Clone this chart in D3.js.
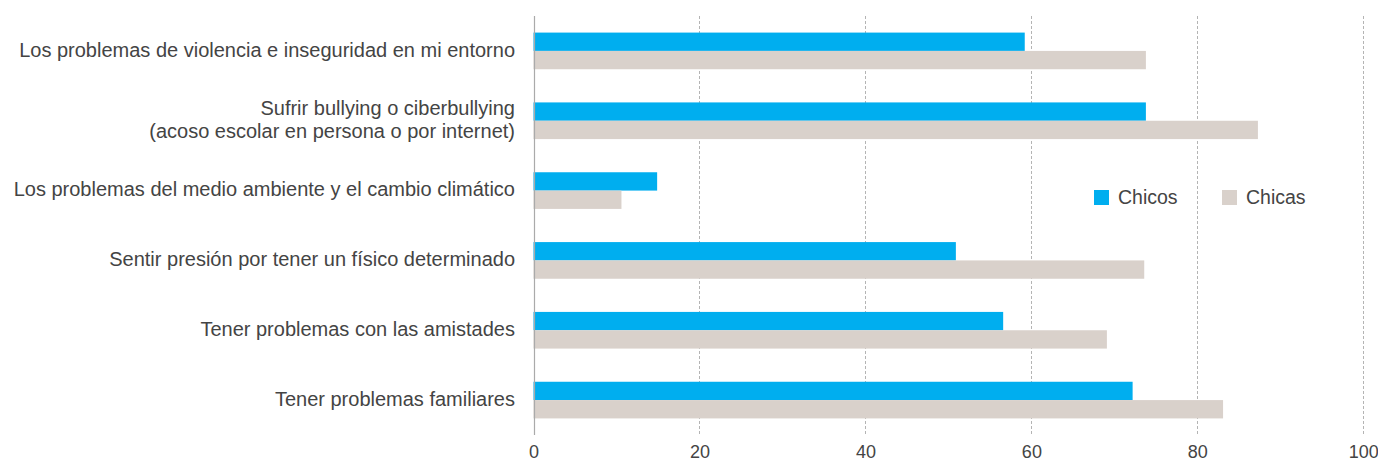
<!DOCTYPE html>
<html>
<head>
<meta charset="utf-8">
<script src="https://cdn.jsdelivr.net/npm/d3@7"></script>
<style>
  html, body { margin: 0; padding: 0; background: #fff; }
  svg { display: block; }
  text { font-family: "Liberation Sans", Arial, sans-serif; fill: #444; }
</style>
</head>
<body>
<div id="chart"></div>
<script>
// Categories, top to bottom (each may span two lines)
const categories = [
  ["Los problemas de violencia e inseguridad en mi entorno"],
  ["Sufrir bullying o ciberbullying", "(acoso escolar en persona o por internet)"],
  ["Los problemas del medio ambiente y el cambio climático"],
  ["Sentir presión por tener un físico determinado"],
  ["Tener problemas con las amistades"],
  ["Tener problemas familiares"]
];
const seriesNames = ["Chicos", "Chicas"];
const chicos = [59.2, 73.8, 14.9, 50.9, 56.6, 72.2];
const chicas = [73.8, 87.3, 10.6, 73.6, 69.1, 83.1];
const xTicks = [0, 20, 40, 60, 80, 100];

const width = 1378, height = 461;
const margin = { top: 16, right: 15, bottom: 26, left: 533.5 };
const colors = { Chicos: "#00aeef", Chicas: "#d9d1cb" };

const svg = d3.select("#chart").append("svg")
  .attr("width", width).attr("height", height);

const x = d3.scaleLinear().domain([0, 100]).range([margin.left, 1363.3]);
const y = d3.scaleBand()
  .domain(d3.range(categories.length))
  .range([margin.top, height - margin.bottom])
  .paddingInner(0.475).paddingOuter(0.2375);
const ySub = d3.scaleBand().domain(seriesNames).range([0, y.bandwidth()]);

// Dashed vertical gridlines
svg.append("g").selectAll("line")
  .data(xTicks.filter(d => d > 0))
  .join("line")
  .attr("x1", d => Math.round(x(d)) + 0.5).attr("x2", d => Math.round(x(d)) + 0.5)
  .attr("y1", margin.top).attr("y2", height - margin.bottom)
  .attr("stroke", "#b4b4b4").attr("stroke-width", 1)
  .attr("stroke-dasharray", "3,2");

// Bars
const rows = categories.map((c, i) => ({ i, Chicos: chicos[i], Chicas: chicas[i] }));
const group = svg.append("g").selectAll("g")
  .data(rows).join("g")
  .attr("transform", d => `translate(0,${y(d.i)})`);
group.selectAll("rect")
  .data(d => seriesNames.map(k => ({ key: k, value: d[k] })))
  .join("rect")
  .attr("x", x(0))
  .attr("y", d => ySub(d.key))
  .attr("width", d => x(d.value) - x(0))
  .attr("height", ySub.bandwidth())
  .attr("fill", d => colors[d.key]);

// Baseline axis line
svg.append("line")
  .attr("x1", Math.round(x(0)) + 0.5).attr("x2", Math.round(x(0)) + 0.5)
  .attr("y1", margin.top).attr("y2", height - margin.bottom)
  .attr("stroke", "#aaaaaa").attr("stroke-width", 1.2);

// X tick labels
const xAxis = d3.axisBottom(x).tickValues(xTicks).tickSize(0).tickPadding(0);
const xg = svg.append("g")
  .attr("transform", `translate(0,${height - margin.bottom})`)
  .call(xAxis);
xg.select(".domain").remove();
xg.selectAll("text")
  .attr("y", 22.5)
  .attr("dy", 0)
  .style("font-size", "18px")
  .style("font-family", "'Liberation Sans', Arial, sans-serif")
  .attr("fill", "#444");

// Category labels
const labelX = 515;
const labels = svg.append("g").selectAll("text")
  .data(categories.map((c, i) => ({ lines: c, i })))
  .join("text")
  .attr("text-anchor", "end")
  .attr("x", labelX)
  .attr("y", d => y(d.i) + y.bandwidth() / 2)
  .style("font-size", "20px");
labels.each(function (d) {
  const n = d.lines.length;
  const lh = 23;
  d3.select(this).selectAll("tspan")
    .data(d.lines).join("tspan")
    .attr("x", labelX)
    .attr("dy", (t, k) => k === 0 ? (-(n - 1) * lh / 2 + 5.8) : lh)
    .text(t => t);
});

// Legend
const legend = svg.append("g").attr("transform", "translate(1094,190)");
const items = legend.selectAll("g").data(seriesNames).join("g")
  .attr("transform", (d, i) => `translate(${i * 128},0)`);
items.append("rect").attr("width", 15).attr("height", 15)
  .attr("fill", d => colors[d]);
items.append("text").attr("x", 24).attr("y", 14)
  .style("font-size", "19.5px").text(d => d);
</script>
</body>
</html>
